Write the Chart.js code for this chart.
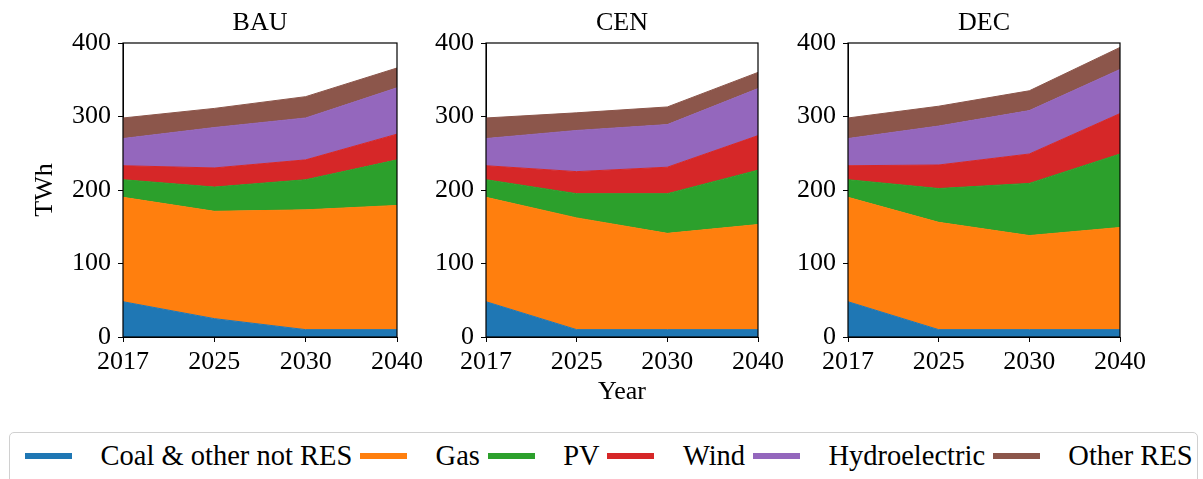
<!DOCTYPE html>
<html>
<head>
<meta charset="utf-8">
<script src="https://cdn.jsdelivr.net/npm/chart.js@4.4.1/dist/chart.umd.min.js"></script>
<style>
    body { margin: 0; background: #fff; width: 1203px; height: 479px; overflow: hidden; position: relative; font-family: "Liberation Serif", "Times New Roman", serif; }
    canvas { position: absolute; top: 0; }
    #legenda { position: absolute; left: 9px; top: 432px; width: 1189px; height: 70px; border: 1px solid #d0d0d0; border-radius: 5px; box-sizing: border-box; display: flex; align-items: flex-start; padding-left: 15px; padding-top: 8px; font-size: 28.5px; color: #000; white-space: nowrap; }
    .item { display: flex; align-items: center; height: 30px; }
    .cor { width: 47px; height: 6px; margin-right: 28.5px; }
    .nome { margin-right: 7.8px; }
</style>
</head>
<body>
<canvas id="graficoBAU" width="431" height="420" style="left:0px"></canvas>
<canvas id="graficoCEN" width="366" height="420" style="left:426px"></canvas>
<canvas id="graficoDEC" width="366" height="420" style="left:788px"></canvas>
<div id="legenda"></div>

<script>
// Dados (TWh)
const anos = ['2017', '2025', '2030', '2040'];
const series = ['Coal & other not RES', 'Gas', 'PV', 'Wind', 'Hydroelectric', 'Other RES'];
const cores = ['#1f77b4', '#ff7f0e', '#2ca02c', '#d62728', '#9467bd', '#8c564b'];

// uma linha por série, na ordem de "series"
const valoresBAU = [
    [48, 25, 10, 10],
    [142, 146, 163, 169],
    [24, 33, 41, 62],
    [19, 26, 27, 35],
    [37, 55, 57, 63],
    [28, 26, 29, 27]
];
const valoresCEN = [
    [48, 10, 10, 10],
    [142, 152, 131, 143],
    [24, 33, 54, 74],
    [19, 30, 36, 47],
    [37, 56, 58, 64],
    [28, 24, 24, 22]
];
const valoresDEC = [
    [48, 10, 10, 10],
    [142, 146, 128, 139],
    [24, 46, 71, 100],
    [19, 32, 40, 55],
    [37, 53, 59, 60],
    [28, 27, 27, 30]
];
const ticksY = [0, 100, 200, 300, 400];

const familia = '"Liberation Serif", "Times New Roman", serif';
const fonte = { family: familia, size: 26 };

// moldura em volta da área do gráfico + título centrado sobre ela
const moldura = {
    id: 'moldura',
    afterDraw(chart, args, opts) {
        const { ctx, chartArea } = chart;
        ctx.save();
        ctx.strokeStyle = '#000';
        ctx.lineWidth = 1.2;
        ctx.strokeRect(chartArea.left, chartArea.top, chartArea.right - chartArea.left, chartArea.bottom - chartArea.top);
        ctx.fillStyle = '#000';
        ctx.font = '26px ' + familia;
        ctx.textAlign = 'center';
        ctx.textBaseline = 'alphabetic';
        ctx.fillText(opts.texto, (chartArea.left + chartArea.right) / 2, 30);
        ctx.restore();
    }
};

function gerarGrafico(id, titulo, valores, larguraY, comTituloY, comTituloX) {
    const ctx = document.getElementById(id).getContext('2d');
    return new Chart(ctx, {
        type: 'line',
        data: {
            labels: anos,
            datasets: series.map((nome, i) => ({
                label: nome,
                data: valores[i],
                backgroundColor: cores[i],
                borderColor: cores[i],
                borderWidth: 1,
                pointRadius: 0,
                tension: 0,
                fill: i === 0 ? 'origin' : '-1'
            }))
        },
        options: {
            responsive: false,
            animation: false,
            layout: { padding: { right: 34, left: 0, top: 43, bottom: 0 } },
            plugins: {
                legend: { display: false },
                tooltip: { enabled: false },
                title: { display: false },
                moldura: { texto: titulo }
            },
            scales: {
                x: {
                    offset: false,
                    grid: { drawOnChartArea: false, drawTicks: true, tickLength: 5, color: '#000' },
                    border: { display: true, color: '#000' },
                    ticks: { color: '#000', font: fonte, padding: 5, maxRotation: 0, autoSkip: false },
                    title: { display: comTituloX, text: 'Year', color: '#000', font: fonte, padding: { top: 0, bottom: 12 } },
                    afterFit: (escala) => { escala.height = 83; }
                },
                y: {
                    stacked: true,
                    min: 0,
                    max: 400,
                    afterBuildTicks: (escala) => { escala.ticks = ticksY.map(v => ({ value: v })); },
                    grid: { drawOnChartArea: false, drawTicks: true, tickLength: 5, color: '#000' },
                    border: { display: true, color: '#000' },
                    ticks: { color: '#000', font: fonte, padding: 7 },
                    title: { display: comTituloY, text: 'TWh', color: '#000', font: fonte, padding: { top: 30, bottom: 0 } },
                    afterFit: (escala) => { escala.width = larguraY; }
                }
            }
        },
        plugins: [moldura]
    });
}

gerarGrafico('graficoBAU', 'BAU', valoresBAU, 123, true, false);
gerarGrafico('graficoCEN', 'CEN', valoresCEN, 60, false, true);
gerarGrafico('graficoDEC', 'DEC', valoresDEC, 60, false, false);

// Legenda
const legenda = document.getElementById('legenda');
series.forEach((nome, i) => {
    const item = document.createElement('div');
    item.className = 'item';
    const cor = document.createElement('div');
    cor.className = 'cor';
    cor.style.backgroundColor = cores[i];
    const texto = document.createElement('span');
    texto.className = 'nome';
    texto.textContent = nome;
    item.appendChild(cor);
    item.appendChild(texto);
    legenda.appendChild(item);
});
</script>
</body>
</html>
